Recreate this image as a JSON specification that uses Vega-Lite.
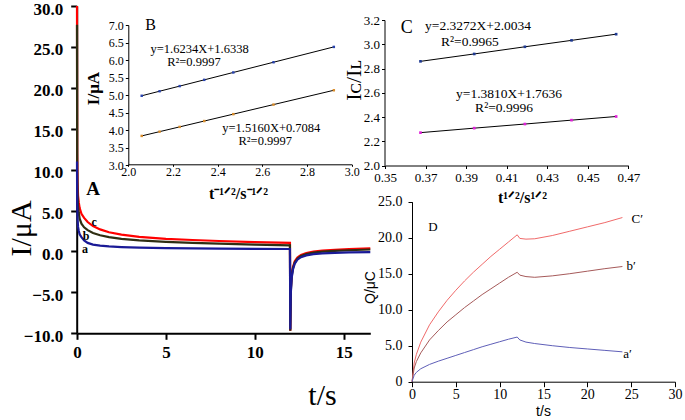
{
"$schema": "https://vega.github.io/schema/vega-lite/v6.json",
"width": 685, "height": 420, "padding": 0, "autosize": "none",
"background": "white",
"config": {"view": {"stroke": null}, "axis": {"grid": false, "labelFont": "Liberation Serif", "titleFont": "Liberation Serif", "labelColor": "black", "titleColor": "black", "domainColor": "black", "tickColor": "black", "labelFlush": false, "labelOverlap": false}, "text": {"font": "Liberation Serif", "color": "black"}},
"datasets": {
"A": [
{"x":0,"y":30,"s":"c"},{"x":0.01,"y":12,"s":"c"},{"x":0.03,"y":8.5,"s":"c"},{"x":0.06,"y":6.8,"s":"c"},{"x":0.1,"y":6.0,"s":"c"},{"x":0.15,"y":5.3,"s":"c"},{"x":0.25,"y":4.6,"s":"c"},{"x":0.4,"y":4.1,"s":"c"},{"x":0.6,"y":3.6,"s":"c"},{"x":0.9,"y":3.1,"s":"c"},{"x":1.3,"y":2.7,"s":"c"},{"x":1.8,"y":2.35,"s":"c"},{"x":2.5,"y":2.05,"s":"c"},{"x":3.5,"y":1.78,"s":"c"},{"x":5,"y":1.55,"s":"c"},{"x":6.5,"y":1.4,"s":"c"},{"x":8,"y":1.28,"s":"c"},{"x":10,"y":1.15,"s":"c"},{"x":11.98,"y":1.05,"s":"c"},{"x":12,"y":-9.7,"s":"c"},{"x":12.03,"y":-4.5,"s":"c"},{"x":12.08,"y":-2.8,"s":"c"},{"x":12.15,"y":-1.9,"s":"c"},{"x":12.25,"y":-1.2,"s":"c"},{"x":12.4,"y":-0.75,"s":"c"},{"x":12.6,"y":-0.42,"s":"c"},{"x":12.9,"y":-0.2,"s":"c"},{"x":13.3,"y":-0.02,"s":"c"},{"x":13.8,"y":0.1,"s":"c"},{"x":14.5,"y":0.2,"s":"c"},{"x":15.3,"y":0.28,"s":"c"},{"x":16.5,"y":0.38,"s":"c"},
{"x":0,"y":27.7,"s":"b"},{"x":0.01,"y":10,"s":"b"},{"x":0.03,"y":7,"s":"b"},{"x":0.06,"y":5.5,"s":"b"},{"x":0.1,"y":4.7,"s":"b"},{"x":0.15,"y":4.0,"s":"b"},{"x":0.25,"y":3.4,"s":"b"},{"x":0.4,"y":2.95,"s":"b"},{"x":0.6,"y":2.6,"s":"b"},{"x":0.9,"y":2.25,"s":"b"},{"x":1.3,"y":1.98,"s":"b"},{"x":1.8,"y":1.75,"s":"b"},{"x":2.5,"y":1.55,"s":"b"},{"x":3.5,"y":1.35,"s":"b"},{"x":5,"y":1.17,"s":"b"},{"x":6.5,"y":1.05,"s":"b"},{"x":8,"y":0.95,"s":"b"},{"x":10,"y":0.83,"s":"b"},{"x":11.98,"y":0.74,"s":"b"},{"x":12,"y":-9.7,"s":"b"},{"x":12.03,"y":-4.8,"s":"b"},{"x":12.08,"y":-3.0,"s":"b"},{"x":12.15,"y":-2.05,"s":"b"},{"x":12.25,"y":-1.35,"s":"b"},{"x":12.4,"y":-0.88,"s":"b"},{"x":12.6,"y":-0.55,"s":"b"},{"x":12.9,"y":-0.32,"s":"b"},{"x":13.3,"y":-0.14,"s":"b"},{"x":13.8,"y":-0.02,"s":"b"},{"x":14.5,"y":0.08,"s":"b"},{"x":15.3,"y":0.15,"s":"b"},{"x":16.5,"y":0.24,"s":"b"},
{"x":0,"y":11,"s":"a"},{"x":0.01,"y":6,"s":"a"},{"x":0.03,"y":4,"s":"a"},{"x":0.06,"y":3.0,"s":"a"},{"x":0.1,"y":2.5,"s":"a"},{"x":0.15,"y":2.1,"s":"a"},{"x":0.25,"y":1.75,"s":"a"},{"x":0.4,"y":1.35,"s":"a"},{"x":0.6,"y":1.05,"s":"a"},{"x":0.9,"y":0.84,"s":"a"},{"x":1.3,"y":0.71,"s":"a"},{"x":1.8,"y":0.62,"s":"a"},{"x":2.5,"y":0.54,"s":"a"},{"x":3.5,"y":0.47,"s":"a"},{"x":5,"y":0.42,"s":"a"},{"x":6.5,"y":0.38,"s":"a"},{"x":8,"y":0.35,"s":"a"},{"x":10,"y":0.32,"s":"a"},{"x":11.98,"y":0.3,"s":"a"},{"x":12,"y":-9.5,"s":"a"},{"x":12.03,"y":-5.0,"s":"a"},{"x":12.08,"y":-3.2,"s":"a"},{"x":12.15,"y":-2.2,"s":"a"},{"x":12.25,"y":-1.5,"s":"a"},{"x":12.4,"y":-1.0,"s":"a"},{"x":12.6,"y":-0.7,"s":"a"},{"x":12.9,"y":-0.48,"s":"a"},{"x":13.3,"y":-0.33,"s":"a"},{"x":13.8,"y":-0.24,"s":"a"},{"x":14.5,"y":-0.17,"s":"a"},{"x":15.3,"y":-0.12,"s":"a"},{"x":16.5,"y":-0.07,"s":"a"}
],
"Abig": [{"x":0.9,"y":7.6,"label":"A"}],
"Asmall": [{"x":0.97,"y":3.64,"label":"c"},{"x":0.51,"y":1.89,"label":"b"},{"x":0.45,"y":0.31,"label":"a"}],
"B": [
{"x":2.06,"y":4.978,"s":"u"},{"x":2.14,"y":5.108,"s":"u"},{"x":2.23,"y":5.254,"s":"u"},{"x":2.34,"y":5.433,"s":"u"},{"x":2.47,"y":5.644,"s":"u"},{"x":2.65,"y":5.936,"s":"u"},{"x":2.92,"y":6.374,"s":"u"},
{"x":2.06,"y":3.831,"s":"l"},{"x":2.14,"y":3.953,"s":"l"},{"x":2.23,"y":4.089,"s":"l"},{"x":2.34,"y":4.256,"s":"l"},{"x":2.47,"y":4.453,"s":"l"},{"x":2.65,"y":4.726,"s":"l"},{"x":2.92,"y":5.135,"s":"l"}
],
"Bbig": [{"x":2.1,"y":7.0,"label":"B"}],
"Beq": [{"x":2.319,"y":6.31,"label":"y=1.6234X+1.6338"},{"x":2.294,"y":5.93,"label":"R²=0.9997"},{"x":2.64,"y":4.07,"label":"y=1.5160X+0.7084"},{"x":2.613,"y":3.68,"label":"R²=0.9997"}],
"C": [
{"x":0.3675,"y":2.859,"s":"u"},{"x":0.394,"y":2.92,"s":"u"},{"x":0.419,"y":2.979,"s":"u"},{"x":0.442,"y":3.032,"s":"u"},{"x":0.464,"y":3.083,"s":"u"},
{"x":0.3675,"y":2.271,"s":"l"},{"x":0.394,"y":2.308,"s":"l"},{"x":0.419,"y":2.342,"s":"l"},{"x":0.442,"y":2.374,"s":"l"},{"x":0.464,"y":2.404,"s":"l"}
],
"Cbig": [{"x":0.3607,"y":3.13,"label":"C"}],
"Ceq": [{"x":0.3959,"y":3.15,"label":"y=2.3272X+2.0034"},{"x":0.3919,"y":3.02,"label":"R²=0.9965"},{"x":0.4112,"y":2.592,"label":"y=1.3810X+1.7636"},{"x":0.4087,"y":2.476,"label":"R²=0.9996"}],
"D": [
{"x":0,"y":0,"s":"c"},{"x":0.25,"y":2.6,"s":"c"},{"x":0.5,"y":3.8,"s":"c"},{"x":1,"y":5.5,"s":"c"},{"x":2,"y":7.9,"s":"c"},{"x":3,"y":9.7,"s":"c"},{"x":4,"y":11.3,"s":"c"},{"x":5,"y":12.7,"s":"c"},{"x":6,"y":14.0,"s":"c"},{"x":7,"y":15.2,"s":"c"},{"x":8,"y":16.3,"s":"c"},{"x":9,"y":17.4,"s":"c"},{"x":10,"y":18.4,"s":"c"},{"x":11,"y":19.4,"s":"c"},{"x":12,"y":20.4,"s":"c"},{"x":12.3,"y":19.9,"s":"c"},{"x":13,"y":19.8,"s":"c"},{"x":14,"y":19.85,"s":"c"},{"x":16,"y":20.3,"s":"c"},{"x":18,"y":20.9,"s":"c"},{"x":20,"y":21.5,"s":"c"},{"x":22,"y":22.1,"s":"c"},{"x":24,"y":22.8,"s":"c"},
{"x":0,"y":0,"s":"b"},{"x":0.25,"y":1.9,"s":"b"},{"x":0.5,"y":2.8,"s":"b"},{"x":1,"y":4.0,"s":"b"},{"x":2,"y":5.8,"s":"b"},{"x":3,"y":7.1,"s":"b"},{"x":4,"y":8.3,"s":"b"},{"x":5,"y":9.3,"s":"b"},{"x":6,"y":10.3,"s":"b"},{"x":7,"y":11.2,"s":"b"},{"x":8,"y":12.1,"s":"b"},{"x":9,"y":12.9,"s":"b"},{"x":10,"y":13.7,"s":"b"},{"x":11,"y":14.5,"s":"b"},{"x":12,"y":15.2,"s":"b"},{"x":12.3,"y":14.8,"s":"b"},{"x":13,"y":14.6,"s":"b"},{"x":14,"y":14.5,"s":"b"},{"x":16,"y":14.7,"s":"b"},{"x":18,"y":15.0,"s":"b"},{"x":20,"y":15.35,"s":"b"},{"x":22,"y":15.7,"s":"b"},{"x":24,"y":16.0,"s":"b"},
{"x":0,"y":0,"s":"a"},{"x":0.25,"y":0.9,"s":"a"},{"x":0.5,"y":1.3,"s":"a"},{"x":1,"y":1.8,"s":"a"},{"x":2,"y":2.4,"s":"a"},{"x":3,"y":2.85,"s":"a"},{"x":4,"y":3.25,"s":"a"},{"x":5,"y":3.65,"s":"a"},{"x":6,"y":4.05,"s":"a"},{"x":7,"y":4.45,"s":"a"},{"x":8,"y":4.85,"s":"a"},{"x":9,"y":5.2,"s":"a"},{"x":10,"y":5.55,"s":"a"},{"x":11,"y":5.9,"s":"a"},{"x":12,"y":6.2,"s":"a"},{"x":12.3,"y":5.8,"s":"a"},{"x":13,"y":5.5,"s":"a"},{"x":14,"y":5.3,"s":"a"},{"x":16,"y":5.0,"s":"a"},{"x":18,"y":4.75,"s":"a"},{"x":20,"y":4.55,"s":"a"},{"x":22,"y":4.35,"s":"a"},{"x":24,"y":4.15,"s":"a"}
],
"Dlab": [{"x":2.4,"y":21.5,"label":"D"},{"x":25.7,"y":22.55,"label":"C′"},{"x":25.0,"y":16.07,"label":"b′"},{"x":24.6,"y":3.8,"label":"a′"}]
},
"layer": [
{
 "encoding": {
  "x": {"field": "x", "type": "quantitative", "scale": {"domain": [0, 16.5], "range": [77, 370.3], "nice": false, "zero": false},
   "axis": {"orient": "bottom", "offset": -86.7, "values": [0, 5, 10, 15], "format": "d", "labelFontSize": 17, "labelFontWeight": "bold", "labelPadding": 5, "tickSize": 6, "tickWidth": 2, "domainWidth": 2, "title": "t/s", "titleFontSize": 30, "titleFontWeight": "normal", "titleX": 322, "titleY": 62, "titleBaseline": "middle", "titleAlign": "center"}},
  "y": {"field": "y", "type": "quantitative", "scale": {"domain": [-10, 30], "range": [333.3, 6], "nice": false, "zero": false},
   "axis": {"orient": "left", "offset": -76.7, "values": [-10, -5, 0, 5, 10, 15, 20, 25, 30], "format": ".1f", "labelFontSize": 17, "labelFontWeight": "bold", "labelPadding": 8, "labelBaseline": "middle", "labelOffset": 3, "tickSize": 6, "tickWidth": 2, "domainWidth": 2, "title": "I/μA", "titleFontSize": 30, "titleFontWeight": "normal", "titleX": -55, "titleY": 228, "titleBaseline": "middle", "titleAlign": "center"}}
 },
 "layer": [
  {"data": {"name": "A"}, "mark": {"type": "line", "strokeWidth": 2.2},
   "encoding": {"color": {"field": "s", "type": "nominal", "scale": {"domain": ["c", "b", "a"], "range": ["#ff0000", "#2f2e12", "#1a1a96"]}, "legend": null}}},
  {"data": {"name": "Abig"}, "mark": {"type": "text", "fontSize": 19, "fontWeight": "bold", "baseline": "middle"},
   "encoding": {"text": {"field": "label"}}},
  {"data": {"name": "Asmall"}, "mark": {"type": "text", "fontSize": 12, "fontWeight": "bold", "baseline": "middle"},
   "encoding": {"text": {"field": "label"}}}
 ]
},
{
 "encoding": {
  "x": {"field": "x", "type": "quantitative", "scale": {"domain": [2, 3], "range": [128.3, 351.7], "nice": false, "zero": false},
   "axis": {"orient": "bottom", "offset": -255.7, "values": [2.0, 2.2, 2.4, 2.6, 2.8, 3.0], "format": ".1f", "labelFontSize": 12, "labelPadding": 0, "tickSize": 2, "domainWidth": 1, "title": "t⁻¹ᐟ²/s⁻¹ᐟ²", "titleFontSize": 16, "titleFontWeight": "bold", "titleX": 238, "titleY": 29, "titleBaseline": "middle", "titleAlign": "center"}},
  "y": {"field": "y", "type": "quantitative", "scale": {"domain": [3, 7], "range": [165, 25], "nice": false, "zero": false},
   "axis": {"orient": "left", "offset": -128.3, "values": [3.0, 3.5, 4.0, 4.5, 5.0, 5.5, 6.0, 6.5, 7.0], "format": ".1f", "labelFontSize": 12, "labelPadding": 2, "tickSize": 3, "domainWidth": 1, "title": "I/μA", "titleFontSize": 17, "titleFontWeight": "bold", "titleX": -35, "titleY": 88, "titleBaseline": "middle", "titleAlign": "center"}}
 },
 "layer": [
  {"data": {"name": "B"}, "mark": {"type": "line", "color": "black", "strokeWidth": 1},
   "encoding": {"detail": {"field": "s", "type": "nominal"}}},
  {"data": {"name": "B"}, "mark": {"type": "point", "shape": "square", "filled": true, "size": 6, "opacity": 1},
   "encoding": {"color": {"field": "s", "type": "nominal", "scale": {"domain": ["u", "l"], "range": ["#2a44b0", "#d98c2a"]}, "legend": null}}},
  {"data": {"name": "Bbig"}, "mark": {"type": "text", "fontSize": 16, "baseline": "middle"},
   "encoding": {"text": {"field": "label"}}},
  {"data": {"name": "Beq"}, "mark": {"type": "text", "fontSize": 12.5, "baseline": "middle"},
   "encoding": {"text": {"field": "label"}}}
 ]
},
{
 "encoding": {
  "x": {"field": "x", "type": "quantitative", "scale": {"domain": [0.35, 0.47], "range": [385, 628.3], "nice": false, "zero": false},
   "axis": {"orient": "bottom", "offset": -254.5, "values": [0.35, 0.37, 0.39, 0.41, 0.43, 0.45, 0.47], "format": ".2f", "labelFontSize": 13, "labelPadding": 3, "tickSize": 3, "domainWidth": 1, "title": "t¹ᐟ²/s¹ᐟ²", "titleFontSize": 16, "titleFontWeight": "bold", "titleX": 522, "titleY": 32, "titleBaseline": "middle", "titleAlign": "center"}},
  "y": {"field": "y", "type": "quantitative", "scale": {"domain": [2.0, 3.2], "range": [165.5, 20], "nice": false, "zero": false},
   "axis": {"orient": "left", "offset": -384.5, "values": [2.0, 2.2, 2.4, 2.6, 2.8, 3.0, 3.2], "format": ".1f", "labelFontSize": 13, "labelPadding": 2, "tickSize": 3, "domainWidth": 1, "title": "Iᴄ/Iʟ", "titleFontSize": 22, "titleFontWeight": "normal", "titleX": -31, "titleY": 80, "titleBaseline": "middle", "titleAlign": "center"}}
 },
 "layer": [
  {"data": {"name": "C"}, "mark": {"type": "line", "color": "black", "strokeWidth": 1},
   "encoding": {"detail": {"field": "s", "type": "nominal"}}},
  {"data": {"name": "C"}, "mark": {"type": "point", "shape": "square", "filled": true, "size": 7, "opacity": 1},
   "encoding": {"color": {"field": "s", "type": "nominal", "scale": {"domain": ["u", "l"], "range": ["#1f3a93", "#e020d8"]}, "legend": null}}},
  {"data": {"name": "Cbig"}, "mark": {"type": "text", "fontSize": 18, "baseline": "middle"},
   "encoding": {"text": {"field": "label"}}},
  {"data": {"name": "Ceq"}, "mark": {"type": "text", "fontSize": 13.5, "baseline": "middle"},
   "encoding": {"text": {"field": "label"}}}
 ]
},
{
 "encoding": {
  "x": {"field": "x", "type": "quantitative", "scale": {"domain": [0, 30], "range": [412, 675], "nice": false, "zero": false},
   "axis": {"orient": "bottom", "offset": -38.3, "values": [0, 5, 10, 15, 20, 25, 30], "format": "d", "labelFontSize": 14, "labelPadding": 1, "tickSize": 5, "domainWidth": 1, "title": "t/s", "titleFont": "Liberation Sans", "titleFontSize": 14, "titleFontWeight": "normal", "titleX": 543, "titleY": 30, "titleBaseline": "middle", "titleAlign": "center"}},
  "y": {"field": "y", "type": "quantitative", "scale": {"domain": [0, 25], "range": [381.7, 201.7], "nice": false, "zero": false},
   "axis": {"orient": "left", "offset": -412, "values": [0, 5, 10, 15, 20, 25], "labelExpr": "datum.value == 0 ? '0' : format(datum.value, '.1f')", "labelFontSize": 14, "labelPadding": 6, "tickSize": 4, "domainWidth": 1, "title": "Q/μC", "titleFont": "Liberation Sans", "titleFontSize": 14, "titleFontWeight": "normal", "titleX": -42, "titleY": 287, "titleBaseline": "middle", "titleAlign": "center"}}
 },
 "layer": [
  {"data": {"name": "D"}, "mark": {"type": "line", "strokeWidth": 1},
   "encoding": {"color": {"field": "s", "type": "nominal", "scale": {"domain": ["c", "b", "a"], "range": ["#f06a6a", "#a65a5a", "#5f5fb8"]}, "legend": null}}},
  {"data": {"name": "Dlab"}, "mark": {"type": "text", "fontSize": 13, "baseline": "middle"},
   "encoding": {"text": {"field": "label"}}}
 ]
}
],
"resolve": {"scale": {"x": "independent", "y": "independent", "color": "independent"}, "axis": {"x": "independent", "y": "independent"}}
}
